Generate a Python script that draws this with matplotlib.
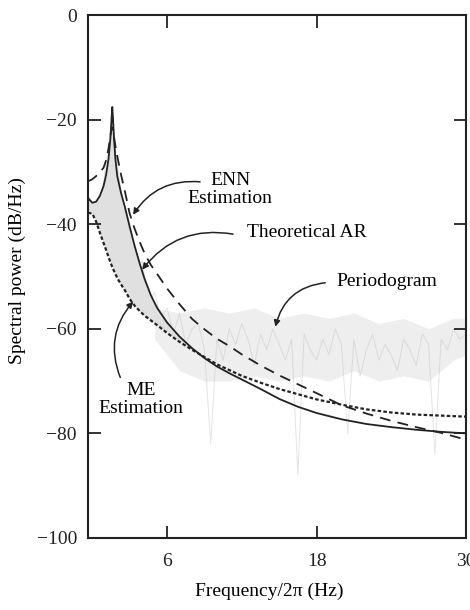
import numpy as np
import matplotlib
matplotlib.use("Agg")
import matplotlib.pyplot as plt

plt.rcParams['font.family'] = ['Liberation Serif', 'DejaVu Serif']
plt.rcParams['font.size'] = 14
plt.rcParams['axes.unicode_minus'] = True

# shared frequency grid for the three model curves (Hz)
freq = [-0.35, 0.0, 0.3, 0.6, 0.9, 1.1, 1.3, 1.45, 1.55, 1.6, 1.65, 1.75, 1.85,
        2.0, 2.3, 2.6, 3.0, 3.4, 3.8, 4.2, 4.7, 5.2, 6.0, 7.0, 8.0, 9.0, 10, 11,
        12, 13.5, 15, 16.5, 18, 20, 22, 24, 26, 28, 30]

theoretical_ar = [-35.0, -35.9, -35.7, -34.6, -32.7, -30.6, -27.5, -23.5, -19.5,
                  -17.6, -19.5, -24.0, -27.5, -30.8, -34.0, -36.6, -40.5, -44.2,
                  -47.5, -50.5, -53.6, -56.0, -58.8, -61.5, -63.7, -65.6, -67.2,
                  -68.5, -69.7, -71.5, -73.4, -74.9, -76.1, -77.3, -78.2, -78.8,
                  -79.3, -79.7, -80.0]

enn_est = [-31.8, -31.4, -30.8, -30.1, -29.2, -27.8, -25.5, -23.0, -21.8, -21.5,
           -22.0, -23.5, -25.0, -27.0, -30.5, -33.6, -38.0, -40.9, -43.4, -45.6,
           -47.8, -49.5, -52.3, -55.3, -58.1, -60.1, -61.9, -63.3, -64.9, -67.0,
           -68.9, -70.6, -72.3, -74.6, -76.2, -77.6, -78.8, -79.9, -81.2]

me_est = [-37.8, -38.0, -39.5, -41.6, -43.6, -44.9, -46.3, -47.3, -47.9, -48.2,
          -48.5, -49.0, -49.5, -50.3, -51.5, -52.6, -54.3, -55.6, -56.6, -57.5,
          -58.4, -59.3, -60.8, -62.5, -64.0, -65.4, -66.8, -67.9, -69.0, -70.3,
          -71.5, -72.5, -73.5, -74.5, -75.4, -76.0, -76.4, -76.6, -76.8]

# periodogram, every 0.5 Hz from 0 to 30
pgram_freq = np.linspace(0, 30, 61)
pgram = [-37, -40, -30, -22, -28, -38, -45, -50, -47, -55, -53, -58, -56, -61,
         -57, -63, -60, -59, -64, -82, -62, -66, -60, -63, -59, -62, -67, -61,
         -64, -60, -63, -66, -62, -88, -61, -64, -66, -62, -65, -60, -63, -80,
         -62, -69, -64, -61, -66, -63, -65, -68, -62, -64, -67, -61, -63, -84,
         -62, -64, -60, -62, -61]

# grey spread of the periodogram
band_freq = [5, 7, 9, 11, 13, 15, 17, 19, 21, 23, 25, 27, 29, 30]
band_top = [-56, -57, -56, -57, -56, -58, -57, -58, -57, -59, -58, -60, -58, -58]
band_bottom = [-62, -68, -70, -70, -69, -70, -69, -70, -68, -70, -69, -70, -66, -65]

fig = plt.figure(figsize=(4.7, 6.1), dpi=100)
ax = fig.add_axes([88 / 470, 1 - 538 / 610, 378 / 470, 523 / 610])

ax.fill_between(band_freq, band_bottom, band_top, color='0.86', alpha=0.45,
                lw=0, zorder=1)
ax.plot(pgram_freq, pgram, color='0.7', lw=0.7, alpha=0.35, zorder=1)
ax.fill_between(freq, me_est, theoretical_ar,
                where=np.array(theoretical_ar) > np.array(me_est),
                color='0.88', lw=0, zorder=1)

ax.plot(freq, theoretical_ar, color='#222222', lw=1.3, zorder=3)
ax.plot(freq, enn_est, color='#222222', lw=1.3, dashes=(6, 4), zorder=3)
ax.plot(freq, me_est, color='#222222', lw=1.6, dashes=(1.6, 1.0), zorder=3)

ax.set_xlim(-0.35, 30)
ax.set_ylim(-100, 0)
ax.set_xticks([6, 18, 30])
ax.set_yticks([0, -20, -40, -60, -80, -100])
ax.tick_params(direction='in', length=9, width=1.3, top=True, right=True,
               labelsize=14, colors='#222222')
ax.tick_params(axis='y', pad=8)
ax.tick_params(axis='x', pad=11)
for s in ax.spines.values():
    s.set_linewidth(1.5)
    s.set_color('#222222')

ax.set_xlabel('Frequency/2\u03c0 (Hz)', fontsize=14)
ax.set_ylabel('Spectral power (dB/Hz)', fontsize=14)
ax.xaxis.set_label_coords(0.479, -0.085)
ax.yaxis.set_label_coords(-0.163, 0.512)

arrow = dict(arrowstyle='-|>', color='#222222', lw=1.1, shrinkA=0, shrinkB=0,
             mutation_scale=9)
ax.annotate('', xy=(3.27, -38.2), xytext=(8.65, -31.9),
            arrowprops=dict(arrow, connectionstyle='arc3,rad=0.3'))
ax.annotate('', xy=(4.0, -48.7), xytext=(11.3, -41.9),
            arrowprops=dict(arrow, connectionstyle='arc3,rad=0.3'))
ax.annotate('', xy=(14.7, -59.6), xytext=(18.7, -51.2),
            arrowprops=dict(arrow, connectionstyle='arc3,rad=0.35'))
ax.annotate('', xy=(3.28, -54.8), xytext=(2.24, -69.3),
            arrowprops=dict(arrow, connectionstyle='arc3,rad=-0.3'))

ax.text(11.06, -33.4, 'ENN\nEstimation', ha='center', va='center',
        linespacing=1.05, fontsize=14)
ax.text(17.2, -41.6, 'Theoretical AR', ha='center', va='center', fontsize=14)
ax.text(23.66, -51.0, 'Periodogram', ha='center', va='center', fontsize=14)
ax.text(3.92, -73.5, 'ME\nEstimation', ha='center', va='center',
        linespacing=1.05, fontsize=14, zorder=4,
        bbox=dict(facecolor='white', edgecolor='none', pad=0.5))

fig.savefig('out.png', dpi=100)
